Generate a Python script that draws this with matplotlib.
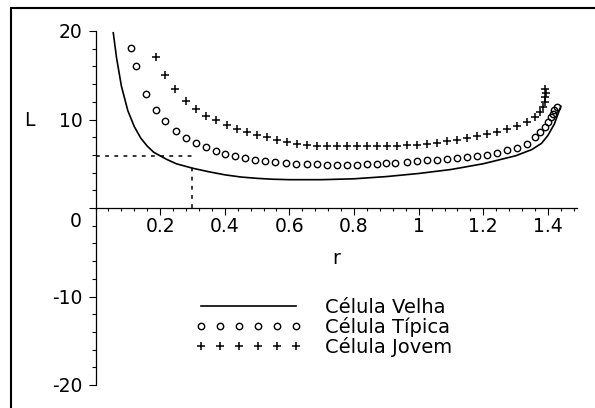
import numpy as np
import matplotlib
matplotlib.use('Agg')
import matplotlib.pyplot as plt
from matplotlib.patches import Rectangle
from matplotlib.ticker import MultipleLocator

plt.rcParams['font.family'] = ['DejaVu Sans']
plt.rcParams['axes.unicode_minus'] = False

# Celula Velha (solid curve)
r_velha = [0.055, 0.065, 0.08, 0.10, 0.12, 0.14, 0.16, 0.18, 0.20, 0.22, 0.25,
           0.30, 0.35, 0.40, 0.45, 0.50, 0.55, 0.60, 0.70, 0.80, 0.90, 1.00,
           1.10, 1.20, 1.30, 1.35, 1.38, 1.40, 1.42, 1.435, 1.44]
L_velha = [19.8, 17.0, 13.8, 11.0, 9.2, 7.9, 7.0, 6.3, 5.9, 5.5, 5.0,
           4.5, 4.1, 3.75, 3.5, 3.35, 3.25, 3.2, 3.2, 3.3, 3.55, 3.9,
           4.35, 5.0, 5.9, 6.6, 7.3, 8.2, 9.5, 11.0, 11.5]

# Celula Tipica (circles)
r_tipica = [0.109, 0.124, 0.155, 0.187, 0.215, 0.249, 0.28, 0.311, 0.342, 0.373,
            0.401, 0.432, 0.464, 0.495, 0.526, 0.557, 0.588, 0.62, 0.654, 0.685,
            0.716, 0.747, 0.778, 0.809, 0.84, 0.87, 0.9, 0.927, 0.963, 0.994,
            1.025, 1.056, 1.087, 1.118, 1.149, 1.18, 1.211, 1.242, 1.273, 1.304,
            1.335, 1.36, 1.376, 1.39, 1.40, 1.41, 1.415, 1.42, 1.428]
L_tipica = [18.1, 16.0, 12.9, 11.1, 9.8, 8.7, 7.9, 7.3, 6.9, 6.45,
            6.15, 5.85, 5.6, 5.4, 5.28, 5.2, 5.1, 5.0, 5.0, 4.95,
            4.85, 4.85, 4.85, 4.9, 4.95, 5.0, 5.05, 5.1, 5.2, 5.28,
            5.4, 5.47, 5.54, 5.65, 5.76, 5.88, 6.03, 6.2, 6.5, 6.8,
            7.27, 8.0, 8.6, 9.1, 9.7, 10.3, 10.6, 11.1, 11.4]

# Celula Jovem (crosses)
r_jovem = [0.187, 0.215, 0.247, 0.28, 0.311, 0.342, 0.373, 0.406, 0.437, 0.468,
           0.499, 0.53, 0.561, 0.592, 0.623, 0.654, 0.685, 0.716, 0.747, 0.778,
           0.809, 0.84, 0.871, 0.902, 0.933, 0.964, 0.995, 1.026, 1.057, 1.088,
           1.119, 1.15, 1.181, 1.212, 1.243, 1.274, 1.305, 1.335, 1.36, 1.375,
           1.386, 1.39, 1.392, 1.393, 1.392]
L_jovem = [17.1, 15.0, 13.45, 12.1, 11.2, 10.45, 9.9, 9.33, 8.95, 8.57,
           8.2, 8.0, 7.72, 7.45, 7.25, 7.1, 7.0, 7.0, 7.0, 7.0,
           7.0, 7.0, 7.0, 7.05, 7.05, 7.1, 7.15, 7.25, 7.4, 7.55,
           7.72, 7.9, 8.1, 8.35, 8.6, 8.9, 9.3, 9.7, 10.3, 10.8,
           11.4, 12.0, 12.5, 13.0, 13.45]

# reference dashed lines
ref_r = 0.3
ref_L_h = 5.9
ref_L_v = 4.6

labels = ['Célula Velha', 'Célula Típica', 'Célula Jovem']

fig = plt.figure(figsize=(5.95, 4.08), dpi=100)
W, H = 595, 408
ax = fig.add_axes([95.5 / W, (H - 385) / H, 481.5 / W, 354 / H])

ax.plot(r_velha, L_velha, color='black', lw=1.2, label=labels[0])
ax.plot(r_tipica, L_tipica, ls='none', marker='o', ms=4.6, mfc='none',
        mec='black', mew=1.0, label=labels[1])
ax.plot(r_jovem, L_jovem, ls='none', marker='+', ms=5.5, color='black',
        mew=1.1, label=labels[2])

ax.plot([0, ref_r], [ref_L_h, ref_L_h], color='black', lw=1.1, dashes=(2.5, 3.5))
ax.plot([ref_r, ref_r], [0, ref_L_v], color='black', lw=1.1, dashes=(2.5, 3.5))

ax.set_xlim(0, 1.49)
ax.set_ylim(-20, 20)

ax.spines['top'].set_visible(False)
ax.spines['right'].set_visible(False)
ax.spines['left'].set_position(('data', 0))
ax.spines['bottom'].set_position(('data', 0))
for s in ['left', 'bottom']:
    ax.spines[s].set_linewidth(0.9)

ax.set_xticks([0.2, 0.4, 0.6, 0.8, 1.0, 1.2, 1.4])
ax.set_xticklabels(['0.2', '0.4', '0.6', '0.8', '1', '1.2', '1.4'])
ax.xaxis.set_minor_locator(MultipleLocator(0.04))
ax.set_yticks([-20, -10, 0, 10, 20])
ax.set_yticklabels(['-20', '-10', '', '10', '20'])
ax.yaxis.set_minor_locator(MultipleLocator(2))

ax.tick_params(axis='x', which='major', direction='out', length=5, width=0.8,
               pad=1.5, labelsize=13.5)
ax.tick_params(axis='x', which='minor', direction='out', length=2.3, width=0.8)
ax.tick_params(axis='y', which='major', direction='out', length=5, width=0.8,
               pad=4.5, labelsize=13.5)
ax.tick_params(axis='y', which='minor', direction='out', length=2.8, width=0.8)

# the 0 label sits a bit below the x axis
ax.text(-0.028, -0.4, '0', transform=ax.get_yaxis_transform(), ha='right',
        va='top', fontsize=13.5)

ax.set_xlabel('r', fontsize=13.5, va='center')
ax.xaxis.set_label_coords(0.4995, 0.356)
ax.set_ylabel('L', fontsize=13.5, rotation=0, ha='center', va='center')
ax.yaxis.set_label_coords(-0.138, 0.746)

ax.legend(loc='upper left', bbox_to_anchor=(195 / W, 1 - 298 / H),
          bbox_transform=fig.transFigure, frameon=False, fontsize=14,
          numpoints=6, handlelength=5.5, handletextpad=1.2, labelspacing=0.0,
          borderpad=0, borderaxespad=0)

fig.add_artist(Rectangle((11 / W, -0.1), 1.2, 1.1 - 8 / H, fill=False,
                         lw=1.5, ec='black', transform=fig.transFigure))

fig.savefig('out.png', dpi=100)
